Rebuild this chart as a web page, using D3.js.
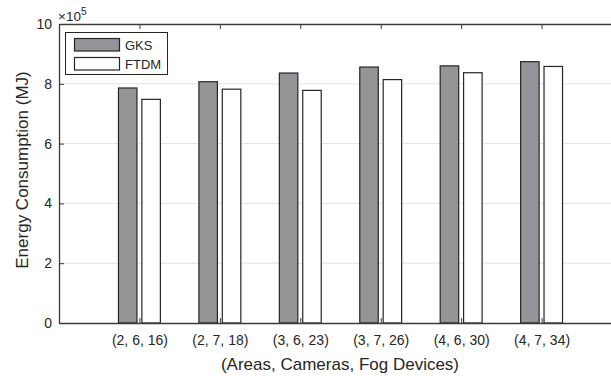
<!DOCTYPE html>
<html><head><meta charset="utf-8">
<script src="https://cdn.jsdelivr.net/npm/d3@7"></script>
<style>body{margin:0;background:#fff}svg{display:block}text{font-family:"Liberation Sans",Arial,sans-serif}</style>
</head><body><svg id="c" width="611" height="376"></svg>
<script>
const categories = ["(2, 6, 16)", "(2, 7, 18)", "(3, 6, 23)", "(3, 7, 26)", "(4, 6, 30)", "(4, 7, 34)"];
const gks  = [7.86e5, 8.07e5, 8.36e5, 8.56e5, 8.60e5, 8.74e5];
const ftdm = [7.48e5, 7.82e5, 7.78e5, 8.14e5, 8.37e5, 8.58e5];
const yTicks = [0, 2, 4, 6, 8, 10];
const seriesNames = ["GKS", "FTDM"];
const seriesColors = ["#949499", "#ffffff"];

const svg = d3.select("#c");
const x = d3.scaleLinear().domain([0, 7]).range([59, 622]);
const y = d3.scaleLinear().domain([0, 10e5]).range([323, 24]);
const axisColor = "#3a3a3a";
const bw = 18.5, off = 11.7;

// grid
svg.append("g").selectAll("line").data(yTicks.filter(t => t > 0 && t < 10)).join("line")
  .attr("x1", 60).attr("x2", 611).attr("y1", d => y(d * 1e5)).attr("y2", d => y(d * 1e5))
  .attr("stroke", "#e3e3e3").attr("stroke-width", 1);

// bars
const series = [gks, ftdm];
series.forEach((vals, si) => {
  svg.append("g").selectAll("rect").data(vals).join("rect")
    .attr("x", (d, i) => x(i + 1) + (si === 0 ? -off : off) - bw / 2)
    .attr("y", d => y(d))
    .attr("width", bw)
    .attr("height", d => y(0) - y(d))
    .attr("fill", seriesColors[si])
    .attr("stroke", "#262626").attr("stroke-width", 1.2);
});

// left axis
const yAxis = d3.axisLeft(y).tickValues(yTicks.map(t => t * 1e5)).tickFormat(d => d / 1e5).tickSizeInner(-5).tickSizeOuter(0).tickPadding(7);
const gy = svg.append("g").attr("transform", "translate(59,0)").call(yAxis);
gy.selectAll("text").attr("font-size", 14).attr("fill", "#262626");
gy.selectAll("line").attr("stroke", axisColor);
gy.select(".domain").attr("stroke", axisColor).attr("stroke-width", 1.3);

// bottom axis
const xAxis = d3.axisBottom(x).tickValues(d3.range(1, 7)).tickFormat(d => categories[d - 1]).tickSizeInner(-5).tickSizeOuter(0).tickPadding(12);
const gx = svg.append("g").attr("transform", "translate(0,323)").call(xAxis);
gx.selectAll("text").attr("font-size", 14).attr("fill", "#262626");
gx.selectAll("line").attr("stroke", axisColor);
gx.select(".domain").attr("stroke", axisColor).attr("stroke-width", 1.3);

// top axis
const xTop = d3.axisTop(x).tickValues(d3.range(1, 7)).tickFormat("").tickSizeInner(-5).tickSizeOuter(0);
const gt = svg.append("g").attr("transform", "translate(0,24)").call(xTop);
gt.selectAll("line").attr("stroke", axisColor);
gt.select(".domain").attr("stroke", axisColor).attr("stroke-width", 1.3);

// exponent
const ex = svg.append("text").attr("x", 58).attr("y", 21).attr("font-size", 13.5).attr("fill", "#262626");
ex.append("tspan").text("\u00d710");
ex.append("tspan").attr("dy", -6).attr("font-size", 10).text("5");

// axis labels
svg.append("text").attr("transform", "translate(27.5,170) rotate(-90)").attr("text-anchor", "middle")
  .attr("font-size", 17).attr("fill", "#262626").text("Energy Consumption (MJ)");
svg.append("text").attr("x", 340).attr("y", 370).attr("text-anchor", "middle")
  .attr("font-size", 17).attr("fill", "#262626").text("(Areas, Cameras, Fog Devices)");

// legend
const lg = svg.append("g");
lg.append("rect").attr("x", 65.5).attr("y", 32.5).attr("width", 102).attr("height", 42)
  .attr("fill", "#fff").attr("stroke", "#262626").attr("stroke-width", 1);
seriesNames.forEach((n, i) => {
  lg.append("rect").attr("x", 74.5).attr("y", 38.5 + i * 19).attr("width", 45).attr("height", 12.5)
    .attr("fill", seriesColors[i]).attr("stroke", "#262626").attr("stroke-width", 1.2);
  lg.append("text").attr("x", 125).attr("y", 49.5 + i * 19).attr("font-size", 13).attr("fill", "#262626").text(n);
});
</script></body></html>
